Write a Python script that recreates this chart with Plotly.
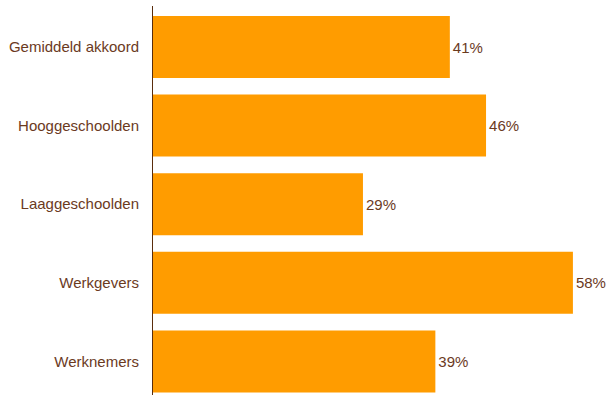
import plotly.graph_objects as go

categories = ["Gemiddeld akkoord", "Hooggeschoolden", "Laaggeschoolden", "Werkgevers", "Werknemers"]
values = [41, 46, 29, 58, 39]
labels = [f"{v}%" for v in values]

text_color = "#6B3A1E"
bar_color = "#FF9C00"

fig = go.Figure(go.Bar(
    y=categories, x=values, orientation="h",
    marker=dict(color=bar_color, line=dict(width=0)),
    text=labels, textposition="outside", cliponaxis=False,
    textfont=dict(color=text_color, size=15, family="Liberation Sans, Arial"),
))

fig.update_layout(
    width=611, height=395,
    margin=dict(l=153, r=0, t=6, b=0),
    paper_bgcolor="white", plot_bgcolor="white",
    bargap=0.211,
    showlegend=False,
    font=dict(family="Liberation Sans, Arial", size=15, color=text_color),
    xaxis=dict(range=[0, 63.26], visible=False, fixedrange=True),
    yaxis=dict(
        type="category",
        range=[4.427, -0.5216],
        showline=True, linecolor="#5A2D0C", linewidth=1,
        showgrid=False, zeroline=False,
        ticks="outside", ticklen=0, ticklabelstandoff=10,
        tickfont=dict(color=text_color, size=15),
    ),
)

fig.write_html("out.html")
